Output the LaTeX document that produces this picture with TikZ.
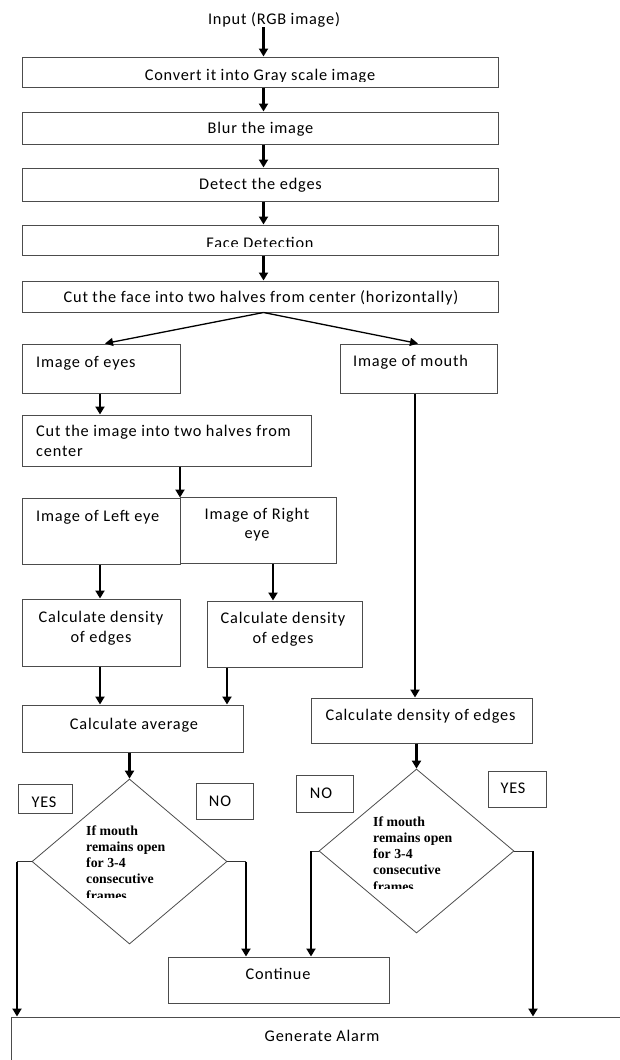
\documentclass[tikz,border=0pt]{standalone}
\usepackage{fontspec}
\setmainfont{Carlito}[LetterSpace=5]
\newfontfamily\dfont{Liberation Serif}
\usetikzlibrary{arrows.meta,shapes.geometric}
\begin{document}
\begin{tikzpicture}[x=1pt,y=-1pt,
  box/.style={draw=black!70,line width=1pt,inner sep=0pt},
  txt/.style={inner sep=0pt,font=\fontsize{16.3}{19.5}\selectfont},
  dtxt/.style={inner sep=0pt,align=left,font=\dfont\bfseries\fontsize{13.8}{16.3}\selectfont},
  arr/.style={line width=2.2pt,-{Triangle[length=8pt,width=9pt]}},
  tarr/.style={line width=1.3pt,-{Triangle[length=8pt,width=8pt]}},
  link/.style={line width=1pt,draw=black!80},
  dia/.style={draw=black!70,line width=0.8pt,diamond,inner sep=0pt},
]
\useasboundingbox (0,0) rectangle (619,1060);

% vertical guide coordinates
\coordinate (xA) at (263.5,0);
\coordinate (xEy) at (105,0);
\coordinate (xMo) at (418,0);
\coordinate (x100) at (100,0);
\coordinate (x180) at (180,0);
\coordinate (x273) at (273,0);
\coordinate (x227) at (227,0);
\coordinate (x415) at (415,0);
\coordinate (xL) at (17,0);
\coordinate (xR1) at (246,0);
\coordinate (xL2) at (311,0);
\coordinate (xR2) at (533,0);

% top chain
\node[txt,anchor=base] (tin) at (274,24) {Input (RGB image)};
\node[box,minimum width=476pt,minimum height=30pt] (b1) at (260,72) {};
\node[box,minimum width=476pt,minimum height=32pt] (b2) at (260,128) {};
\node[box,minimum width=476pt,minimum height=33pt] (b3) at (260,184.5) {};
\node[box,minimum width=476pt,minimum height=30pt] (b4) at (260,240) {};
\node[box,minimum width=476pt,minimum height=31pt] (b5) at (260,296.5) {};

\begin{scope}
  \clip (0,57) rectangle (619,81);
  \node[txt,anchor=base] (t1) at (260,80) {Convert it into Gray scale image};
\end{scope}
\node[txt,anchor=base] (t2) at (260.5,133) {Blur the image};
\node[txt,anchor=base] (t3) at (260.5,189) {Detect the edges};
\begin{scope}
  \clip (0,225) rectangle (619,246);
  \node[txt,anchor=base] (t4) at (260,248.5) {Face Detection};
\end{scope}
\node[txt,anchor=base] (t5) at (261,302) {Cut the face into two halves from center (horizontally)};

\draw[arr] (tin.south -| xA) -- (b1.north -| xA);
\draw[arr] (b1.south -| xA) -- (b2.north -| xA);
\draw[arr] (b2.south -| xA) -- (b3.north -| xA);
\draw[arr] (b3.south -| xA) -- (b4.north -| xA);
\draw[arr] (b4.south -| xA) -- (b5.north -| xA);

% second level
\node[box,minimum width=158pt,minimum height=49pt] (eyes) at (101,368.5) {};
\node[box,minimum width=157pt,minimum height=49pt] (mouth) at (418.5,368.5) {};
\node[txt,anchor=base west] (teyes) at (36,367) {Image of eyes};
\node[txt,anchor=base west] (tmouth) at (353,366) {Image of mouth};
\draw[tarr] (b5.south -| xA) -- (eyes.north -| xEy);
\draw[tarr] (b5.south -| xA) -- (mouth.north -| xMo);

\node[box,minimum width=289pt,minimum height=51pt] (cut) at (166.5,440.5) {};
\node[txt,anchor=base west,align=left] (tcut) at (36,456) {Cut the image into two halves from\\center};
\draw[arr] (eyes.south -| x100) -- (cut.north -| x100);

\node[box,minimum width=158pt,minimum height=66pt] (leye) at (101,531) {};
\node[box,minimum width=156pt,minimum height=66pt] (reye) at (258,530) {};
\node[txt,anchor=base west] (tleye) at (36,521) {Image of Left eye};
\node[txt,anchor=base,align=center] (treye) at (257,538.5) {Image of Right\\eye};
\draw[arr] (cut.south -| x180) -- (leye.north -| x180);

\node[box,minimum width=158pt,minimum height=67pt] (cdl) at (101,632.5) {};
\node[box,minimum width=155pt,minimum height=66pt] (cdr) at (284.5,634) {};
\node[txt,anchor=base,align=center] (tcdl) at (101,642) {Calculate density\\of edges};
\node[txt,anchor=base,align=center] (tcdr) at (283,643) {Calculate density\\of edges};
\draw[arr] (leye.south -| x100) -- (cdl.north -| x100);
\draw[arr] (reye.south -| x273) -- (cdr.north -| x273);

\node[box,minimum width=221pt,minimum height=47pt] (avg) at (132.5,728.5) {};
\node[txt,anchor=base] (tavg) at (134,729) {Calculate average};
\draw[arr] (cdl.south -| x100) -- (avg.north -| x100);
\draw[arr] (cdr.south -| x227) -- (avg.north -| x227);

\node[box,minimum width=221pt,minimum height=45pt] (cdm) at (421.5,720.5) {};
\node[txt,anchor=base] (tcdm) at (420.5,720) {Calculate density of edges};
\draw[arr] (mouth.south -| x415) -- (cdm.north -| x415);

% decisions
\node[dia,minimum width=195pt,minimum height=165pt] (d1) at (129.5,861.5) {};
\node[dia,minimum width=195pt,minimum height=164pt] (d2) at (416.5,851) {};
\draw[arr] (avg.south -| d1.north) -- (d1.north);
\draw[arr] (cdm.south -| d2.north) -- (d2.north);

\begin{scope}
  \clip (60,815) rectangle (200,897);
  \node[dtxt,anchor=base west] (dt1) at (86,900.2) {If mouth\\remains open\\for 3-4\\consecutive\\frames};
\end{scope}
\begin{scope}
  \clip (340,805) rectangle (500,888);
  \node[dtxt,anchor=base west] (dt2) at (373,891.2) {If mouth\\remains open\\for 3-4\\consecutive\\frames};
\end{scope}

\node[box,minimum width=54pt,minimum height=29pt] (yes1) at (45,798.5) {};
\node[txt,anchor=base] (tyes1) at (44,807) {YES};
\node[box,minimum width=57pt,minimum height=36pt] (no1) at (224.5,801) {};
\node[txt,anchor=base] (tno1) at (220,806) {NO};
\node[box,minimum width=57pt,minimum height=37pt] (no2) at (324.5,793.5) {};
\node[txt,anchor=base] (tno2) at (321,798) {NO};
\node[box,minimum width=58pt,minimum height=36pt] (yes2) at (517,789) {};
\node[txt,anchor=base] (tyes2) at (513,793) {YES};

% bottom
\node[box,minimum width=221pt,minimum height=46pt] (cont) at (278.5,980) {};
\node[txt,anchor=base] (tcont) at (278,979) {Continue};
\node[box,minimum width=638pt,minimum height=66pt] (gen) at (330,1050) {};
\node[txt,anchor=base] (tgen) at (322,1041) {Generate Alarm};

\draw[link] (d1.west) -- (d1.west -| xL);
\draw[arr] (d1.west -| xL) -- (gen.north -| xL);
\draw[link] (d1.east) -- (d1.east -| xR1);
\draw[arr] (d1.east -| xR1) -- (cont.north -| xR1);
\draw[link] (d2.west) -- (d2.west -| xL2);
\draw[arr] (d2.west -| xL2) -- (cont.north -| xL2);
\draw[link] (d2.east) -- (d2.east -| xR2);
\draw[arr] (d2.east -| xR2) -- (gen.north -| xR2);
\end{tikzpicture}
\end{document}
